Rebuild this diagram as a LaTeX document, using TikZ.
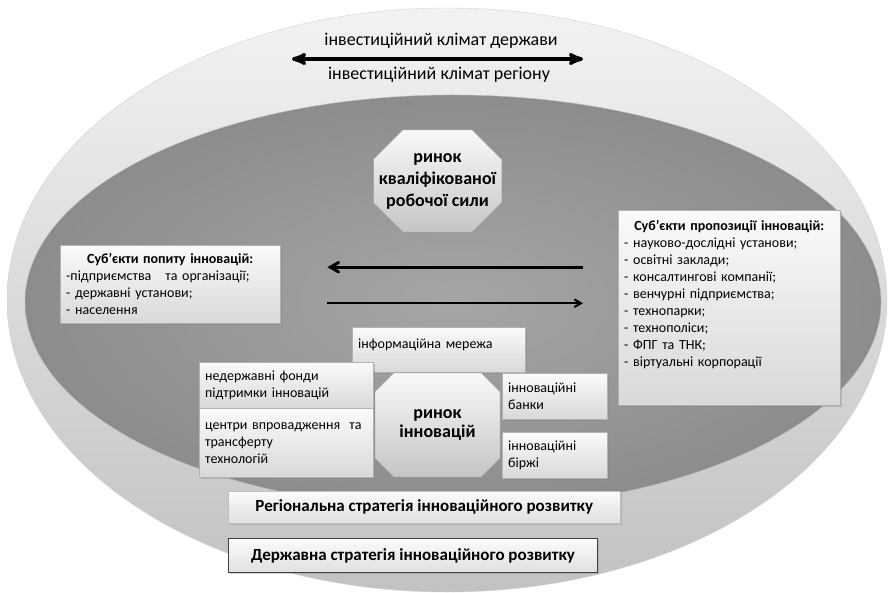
\documentclass[tikz,border=0pt]{standalone}
\usepackage{fontspec}
\setmainfont{Carlito}
\usepackage{tikz}
\usetikzlibrary{arrows,shapes,shadows,positioning}

\begin{document}
\begin{tikzpicture}[x=1pt, y=-1pt, >=stealth']

	\tikzstyle{smalltext}=[font=\fontsize{14}{17}\selectfont]
	\tikzstyle{infobox}=[rectangle, smalltext, draw=gray!60, top color=gray!4, bottom color=gray!30, drop shadow={opacity=0.35, shadow xshift=1.5pt, shadow yshift=-1.5pt}, inner xsep=6pt, inner ysep=3pt, align=left, anchor=north west]
	\tikzstyle{market}=[chamfered rectangle, chamfered rectangle xsep=26pt, draw=gray!80, top color=gray!5, bottom color=gray!45, inner xsep=-23pt, inner ysep=0pt, align=center, font=\fontsize{18}{22}\selectfont\bfseries]
	\tikzstyle{strategy}=[rectangle, draw=gray!50, top color=gray!3, bottom color=gray!25, drop shadow={opacity=0.3, shadow xshift=1.5pt, shadow yshift=-1.5pt}, inner sep=0pt, anchor=north west, font=\fontsize{17}{20}\selectfont\bfseries]
	\tikzstyle{climate}=[font=\fontsize{18}{21}\selectfont]

	\useasboundingbox (0,0) rectangle (890,593);
	\fill[white] (0,0) rectangle (890,593);

	% ellipses
	\shadedraw[top color=black!5, bottom color=black!24, draw=gray!35] (447,300) ellipse [x radius=440pt, y radius=292pt];
	\shadedraw[inner color=black!35, outer color=black!45, draw=gray!55] (453,302) ellipse [x radius=428pt, y radius=207pt];

	% investment climate
	\coordinate (climL) at (292,59);
	\coordinate (climR) at (583,59);
	\draw[<->, line width=3.5pt] (climL) -- (climR);
	\node[climate] (stateclim) at (441,41) {інвестиційний клімат держави};
	\node[climate] (regionclim) at (439,75) {інвестиційний клімат регіону};

	% labour market
	\node[market, minimum width=128pt, minimum height=102pt] (labour) at (437.5,181) {ринок\\ кваліфікованої\\ робочої сили};

	% demand and supply
	\node[infobox, text width=208pt, minimum height=78pt] (demand) at (60,245)
		{\makebox[\linewidth]{\bfseries Суб’єкти попиту інновацій:}\\
		-підприємства\ \ \ та організації;\\
		- державні установи;\\
		- населення};
	\node[infobox, text width=210pt, text height=17pt, text depth=172pt] (supply) at (618,210)
		{\makebox[\linewidth]{\bfseries Суб’єкти пропозиції інновацій:}\\
		- науково-дослідні установи;\\
		- освітні заклади;\\
		- консалтингові компанії;\\
		- венчурні підприємства;\\
		- технопарки;\\
		- технополіси;\\
		- ФПГ та ТНК;\\
		- віртуальні корпорації};
	\draw[<-, line width=3pt, >=angle 60, shorten <=47pt, shorten >=35pt] ([yshift=17pt]demand.east) -- ([yshift=17pt]demand.east -| supply.west);
	\draw[->, line width=2pt, >=angle 60, shorten <=47pt, shorten >=35pt] ([yshift=-19pt]demand.east) -- ([yshift=-19pt]demand.east -| supply.west);

	% innovation market
	\node[infobox, text width=161pt, text height=18pt, text depth=21pt] (network) at (352,327) {інформаційна мережа};
	\node[infobox, text width=162pt, minimum height=46pt] (funds) at (199,362) {недержавні фонди\\ підтримки інновацій};
	\node[infobox, text width=162pt, minimum height=69pt, below=0pt of funds] (centres) {центри впровадження\ \ та\\ трансферту\\ технологій};
	\node[market, minimum width=125pt, minimum height=104pt, font=\fontsize{18}{19}\selectfont\bfseries] (innov) at (437.5,425) {ринок\\ інновацій};
	\node[infobox, text width=93pt, minimum height=46pt] (banks) at (502,373) {інноваційні\\ банки};
	\node[infobox, text width=93pt, minimum height=46pt, below=13pt of banks] (exchanges) {інноваційні\\ біржі};

	% strategies
	\node[strategy, minimum width=392pt, minimum height=32pt] (regional) at (228,491) {Регіональна стратегія інноваційного розвитку};
	\node[strategy, minimum width=369pt, minimum height=34pt, draw=black!75, line width=1pt, below=15pt of regional.south west, anchor=north west] (national) {Державна стратегія інноваційного розвитку};

\end{tikzpicture}
\end{document}
